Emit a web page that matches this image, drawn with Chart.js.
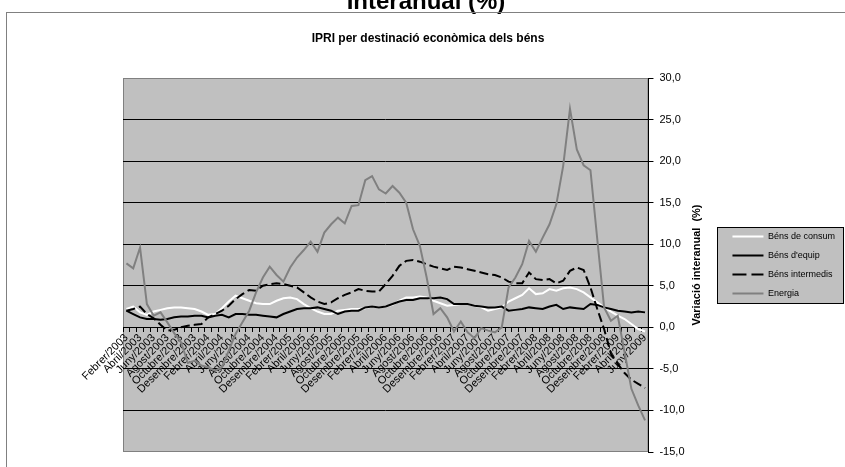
<!DOCTYPE html>
<html>
<head>
<meta charset="utf-8">
<script src="https://cdn.jsdelivr.net/npm/chart.js@4"></script>
<style>
  html, body { margin: 0; padding: 0; background: #fff; overflow: hidden; }
</style>
</head>
<body>
<canvas id="ipriChart" width="845" height="467"></canvas>
<script>
const categories = [
  'Febrer/2003', 'Març/2003', 'Abril/2003', 'Maig/2003', 'Juny/2003', 'Juliol/2003', 'Agost/2003', 'Setembre/2003', 'Octubre/2003', 'Novembre/2003', 'Desembre/2003',
  'Gener/2004', 'Febrer/2004', 'Març/2004', 'Abril/2004', 'Maig/2004', 'Juny/2004', 'Juliol/2004', 'Agost/2004', 'Setembre/2004', 'Octubre/2004', 'Novembre/2004', 'Desembre/2004',
  'Gener/2005', 'Febrer/2005', 'Març/2005', 'Abril/2005', 'Maig/2005', 'Juny/2005', 'Juliol/2005', 'Agost/2005', 'Setembre/2005', 'Octubre/2005', 'Novembre/2005', 'Desembre/2005',
  'Gener/2006', 'Febrer/2006', 'Març/2006', 'Abril/2006', 'Maig/2006', 'Juny/2006', 'Juliol/2006', 'Agost/2006', 'Setembre/2006', 'Octubre/2006', 'Novembre/2006', 'Desembre/2006',
  'Gener/2007', 'Febrer/2007', 'Març/2007', 'Abril/2007', 'Maig/2007', 'Juny/2007', 'Juliol/2007', 'Agost/2007', 'Setembre/2007', 'Octubre/2007', 'Novembre/2007', 'Desembre/2007',
  'Gener/2008', 'Febrer/2008', 'Març/2008', 'Abril/2008', 'Maig/2008', 'Juny/2008', 'Juliol/2008', 'Agost/2008', 'Setembre/2008', 'Octubre/2008', 'Novembre/2008', 'Desembre/2008',
  'Gener/2009', 'Febrer/2009', 'Març/2009', 'Abril/2009', 'Maig/2009', 'Juny/2009'
];

const bensConsum = [
  2.2, 2.5, 1.8, 1.5, 1.9, 2.1, 2.3, 2.4, 2.4, 2.3,
  2.2, 1.9, 1.5, 1.6, 2.3, 3.1, 3.8, 3.5, 3.2, 2.9,
  2.8, 2.8, 3.2, 3.5, 3.6, 3.4, 2.8, 2.3, 1.9, 1.6,
  1.6, 2.0, 2.1, 2.2, 2.2, 2.3, 2.5, 2.4, 2.5, 2.7,
  3.2, 3.6, 3.6, 3.7, 3.6, 3.2, 2.9, 2.6, 2.7, 2.8,
  2.8, 2.6, 2.4, 2.0, 2.2, 2.4, 3.1, 3.5, 3.9, 4.7,
  4.0, 4.1, 4.6, 4.4, 4.7, 4.8, 4.6, 4.2, 3.6, 3.0,
  2.4, 1.9, 1.4, 1.0, 0.4, -0.2, -0.5
];

const bensEquip = [
  2.0, 1.6, 1.2, 1.0, 1.0, 0.9, 1.0, 1.2, 1.3, 1.3,
  1.4, 1.4, 1.2, 1.4, 1.5, 1.2, 1.6, 1.6, 1.5, 1.5,
  1.4, 1.3, 1.2, 1.6, 1.9, 2.2, 2.3, 2.3, 2.4, 2.2,
  2.0, 1.6, 1.9, 2.0, 2.0, 2.4, 2.5, 2.4, 2.5, 2.8,
  3.1, 3.3, 3.3, 3.5, 3.5, 3.5, 3.6, 3.4, 2.8, 2.8,
  2.8, 2.6, 2.5, 2.4, 2.4, 2.5, 2.0, 2.1, 2.2, 2.4,
  2.3, 2.2, 2.5, 2.7, 2.2, 2.4, 2.3, 2.2, 2.8, 2.7,
  2.4, 2.2, 2.0, 1.9, 1.8, 1.9, 1.8
];

const bensIntermedis = [
  2.0, 2.2, 2.5, 1.6, 1.1, 0.3, -0.4, -0.3, 0.0, 0.2,
  0.3, 0.4, 1.2, 1.6, 2.0, 2.6, 3.4, 4.0, 4.5, 4.4,
  5.0, 5.2, 5.3, 5.2, 5.0, 4.8, 4.2, 3.6, 3.1, 2.8,
  3.0, 3.5, 3.9, 4.2, 4.6, 4.4, 4.3, 4.3, 5.2, 6.2,
  7.4, 8.0, 8.1, 7.9, 7.6, 7.3, 7.1, 6.9, 7.3, 7.2,
  7.0, 6.8, 6.6, 6.4, 6.3, 6.0, 5.5, 5.3, 5.3, 6.6,
  5.8, 5.7, 5.8, 5.3, 5.6, 6.8, 7.2, 6.9, 4.8, 2.2,
  -0.2, -3.2, -4.4, -5.5, -6.3, -6.8, -7.3
];

const energia = [
  7.7, 7.1, 9.6, 2.8, 1.4, 1.8, 0.6, -0.7, -1.8, -4.3,
  -4.0, -4.6, -4.8, -5.2, -4.8, -2.8, -0.8, 0.6, 2.0, 4.2,
  6.0, 7.3, 6.3, 5.5, 7.2, 8.4, 9.3, 10.3, 9.1, 11.4,
  12.4, 13.2, 12.5, 14.6, 14.7, 17.7, 18.2, 16.6, 16.1, 17.0,
  16.2, 15.0, 11.8, 9.8, 6.0, 1.6, 2.3, 1.2, -0.5, 0.7,
  -0.6, -1.3, -0.1, -0.4, -0.6, 0.0, 4.8, 6.0, 7.6, 10.4,
  9.1, 10.8, 12.4, 14.8, 19.4, 26.3, 21.4, 19.5, 18.9, 10.6,
  2.4, 0.8, 1.4, -3.0, -7.4, -9.4, -11.2
];

const yTicks = [-15, -10, -5, 0, 5, 10, 15, 20, 25, 30];

// frame, titles, grey plot area and legend box (drawn under everything else)
const marcPlugin = {
  id: 'marc',
  beforeDraw(chart) {
    const ctx = chart.ctx;
    const a = chart.chartArea;
    ctx.save();
    ctx.fillStyle = '#ffffff';
    ctx.fillRect(0, 0, chart.width, chart.height);

    ctx.fillStyle = '#000';
    ctx.textAlign = 'center';
    ctx.textBaseline = 'alphabetic';
    ctx.font = 'bold 24px Arial';
    ctx.fillText('Interanual (%)', 426, 9);

    ctx.strokeStyle = '#808080';
    ctx.lineWidth = 1;
    ctx.strokeRect(6.5, 12.5, 880, 500);

    ctx.font = 'bold 12px Arial';
    ctx.fillText('IPRI per destinació econòmica dels béns', 428, 42);

    ctx.fillStyle = '#c0c0c0';
    ctx.fillRect(a.left, a.top, a.right - a.left, a.bottom - a.top);
    ctx.strokeStyle = '#808080';
    ctx.strokeRect(a.left + 0.5, a.top + 0.5, a.right - a.left - 1, a.bottom - a.top - 1);

    ctx.save();
    ctx.translate(697, (a.top + a.bottom) / 2);
    ctx.rotate(-Math.PI / 2);
    ctx.fillStyle = '#000';
    ctx.font = 'bold 11px Arial';
    ctx.textBaseline = 'middle';
    ctx.fillText('Variació interanual  (%)', 0, 0);
    ctx.restore();

    const lg = chart.legend;
    const cy = Math.round((lg.top + lg.bottom) / 2);
    const lx = Math.round(lg.left) - 5;
    ctx.fillStyle = '#c0c0c0';
    ctx.fillRect(lx, cy - 38, 844 - lx, 77);
    ctx.strokeStyle = '#000';
    ctx.strokeRect(lx + 0.5, cy - 38 + 0.5, 844 - lx - 1, 76);
    ctx.restore();
  }
};

new Chart(document.getElementById('ipriChart'), {
  type: 'line',
  data: {
    labels: categories,
    datasets: [
      { label: 'Béns de consum', data: bensConsum, borderColor: '#ffffff', backgroundColor: '#ffffff', order: 4 },
      { label: "Béns d'equip", data: bensEquip, borderColor: '#000000', backgroundColor: '#000000', order: 3 },
      { label: 'Béns intermedis', data: bensIntermedis, borderColor: '#000000', backgroundColor: '#000000', borderDash: [9, 4], order: 2 },
      { label: 'Energia', data: energia, borderColor: '#808080', backgroundColor: '#808080', order: 1 }
    ]
  },
  options: {
    responsive: false,
    animation: false,
    layout: { padding: { top: 78, left: 123, right: 0, bottom: 15 } },
    elements: {
      point: { radius: 0, hoverRadius: 0 },
      line: { tension: 0, borderWidth: 2, fill: false }
    },
    plugins: {
      title: { display: false },
      tooltip: { enabled: false },
      legend: {
        position: 'right',
        labels: {
          usePointStyle: true,
          pointStyle: 'line',
          pointStyleWidth: 31,
          boxHeight: 9,
          padding: 10,
          color: '#000',
          font: { family: 'Arial', size: 9 },
          sort: (a, b) => a.datasetIndex - b.datasetIndex,
          // point-style items take the point's style, so copy the line's dash and width
          generateLabels: chart => Chart.defaults.plugins.legend.labels.generateLabels(chart).map(item => {
            const ds = chart.data.datasets[item.datasetIndex];
            item.lineDash = ds.borderDash ? [14, 5] : [];
            item.lineWidth = 2;
            item.strokeStyle = ds.borderColor;
            return item;
          })
        }
      }
    },
    scales: {
      x: {
        position: { y: 0 },
        offset: true,
        grid: { offset: true, drawOnChartArea: false, drawTicks: true, tickLength: 4, tickColor: '#000', color: '#000' },
        border: { color: '#000', width: 1 },
        ticks: {
          autoSkip: false,
          maxRotation: 45,
          minRotation: 45,
          padding: 0,
          color: '#000',
          font: { family: 'Arial', size: 11 },
          callback: function (v, i) { return i % 2 === 0 ? this.getLabelForValue(v) : ''; }
        }
      },
      y: {
        position: 'right',
        min: yTicks[0],
        max: yTicks[yTicks.length - 1],
        afterBuildTicks: s => { s.ticks = yTicks.map(v => ({ value: v })); },
        ticks: {
          padding: 6,
          color: '#000',
          font: { family: 'Arial', size: 11 },
          callback: v => v.toFixed(1).replace('.', ',')
        },
        grid: {
          color: c => (c.tick && (c.tick.value === 30 || c.tick.value === -15)) ? 'rgba(0,0,0,0)' : '#000',
          tickColor: '#000',
          tickLength: 5
        },
        border: { color: '#000' },
        afterFit: s => { s.width = 74; }
      }
    }
  },
  plugins: [marcPlugin]
});
</script>
</body>
</html>
